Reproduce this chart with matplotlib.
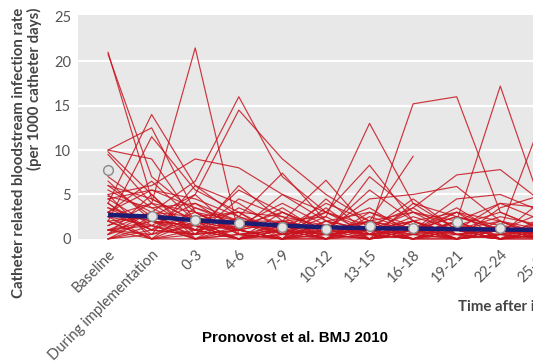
import numpy as np
import matplotlib
matplotlib.use("Agg")
import matplotlib.pyplot as plt

nan = np.nan

categories = ["Baseline", "During implementation", "0-3", "4-6", "7-9", "10-12",
              "13-15", "16-18", "19-21", "22-24", "25-27"]

# one list per hospital, rates per 1000 catheter days
hospitals = [
    [21.0, 4.5, 2.0, 1.0, 0.0, 1.5, 0.5, 0.0, 1.0, 0.5, 0.0],
    [20.8, 7.0, 3.0, 0.5, 1.5, 0.0, 2.0, 1.0, 0.0, 1.0, 0.5],
    [4.0, 14.0, 6.0, 2.5, 1.0, 0.5, 1.0, 2.0, 0.5, 0.0, 1.0],
    [10.0, 12.5, 3.0, 1.0, 2.0, 0.5, 0.0, 1.0, 2.5, 1.0, 0.0],
    [2.0, 11.5, 5.5, 3.0, 0.5, 1.0, 2.0, 0.0, 1.0, 0.0, 1.5],
    [2.5, 4.0, 21.5, 0.5, 1.0, 0.0, 0.5, 1.5, 0.0, 2.0, 0.5],
    [1.0, 3.0, 6.5, 16.0, 7.0, 3.0, 1.0, 0.5, 2.0, 0.0, 1.0],
    [3.0, 1.0, 5.0, 14.5, 9.0, 5.0, 2.0, 3.0, 0.5, 1.0, 0.0],
    [10.0, 9.0, 2.0, 1.0, 0.0, 0.5, 1.0, 0.0, 0.0, 0.5, 2.0],
    [9.5, 4.0, 1.0, 2.0, 0.5, 2.5, 0.0, 1.0, 0.5, 0.0, 0.0],
    [5.0, 6.0, 9.0, 8.0, 5.0, 2.0, 3.0, 1.0, 0.0, 1.5, 1.0],
    [3.5, 2.0, 1.5, 1.0, 2.0, 2.5, 13.0, 4.0, 1.0, 0.0, 0.5],
    [1.5, 3.0, 2.5, 1.0, 0.0, 1.0, 2.0, 9.3, nan, nan, nan],
    [4.5, 5.5, 3.5, 2.0, 1.5, 3.0, 8.3, 2.0, 3.0, 1.0, 0.5],
    [0.5, 2.0, 1.0, 0.0, 3.0, 1.0, 1.0, 15.2, 16.0, 3.0, 1.0],
    [2.0, 0.0, 3.5, 1.5, 1.0, 0.0, 1.5, 0.5, 2.0, 17.2, 3.0],
    [6.0, 4.5, 2.0, 3.0, 2.5, 1.5, 0.5, 3.5, 7.2, 7.8, 4.0],
    [0.0, 1.5, 0.5, 1.0, 0.0, 2.0, 1.0, 0.0, 1.5, 1.0, 14.0],
    [4.8, 3.5, 4.0, 2.0, 2.0, 6.6, 1.0, 2.0, 0.5, 1.5, 0.0],
    [3.0, 5.5, 4.5, 2.5, 7.4, 2.0, 0.0, 1.5, 1.0, 0.0, 1.0],
    [1.0, 0.5, 6.0, 4.0, 1.0, 0.5, 7.0, 3.0, 2.0, 4.0, 2.0],
    [0.0, 2.5, 1.0, 5.5, 3.0, 1.0, 4.5, 5.0, 5.9, 2.0, 1.0],
    [2.0, 0.0, 2.0, 0.0, 1.0, 4.0, 2.0, 1.0, 4.5, 5.0, 3.0],
    [5.5, 3.0, 0.0, 1.5, 4.0, 1.5, 3.5, 0.5, 0.0, 3.5, 5.0],
    [1.5, 4.0, 3.0, 0.5, 0.0, 3.5, 0.0, 4.0, 2.5, 1.0, 3.0],
    [3.5, 1.0, 0.5, 3.5, 1.5, 0.0, 2.5, 1.0, 3.5, 0.5, 0.0],
    [6.5, 2.0, 1.5, 0.0, 2.0, 1.0, 0.5, 2.5, 1.0, 2.5, 1.5],
    [0.5, 5.0, 0.0, 2.5, 0.5, 3.0, 1.5, 0.0, 2.0, 0.0, 2.5],
    [2.5, 1.5, 4.0, 1.0, 3.5, 0.5, 0.0, 2.0, 0.0, 1.0, 0.0],
    [4.0, 0.5, 2.5, 3.0, 0.0, 2.0, 1.0, 3.0, 1.5, 3.0, 1.0],
    [1.0, 2.0, 0.5, 4.5, 2.5, 0.0, 3.0, 1.5, 0.0, 0.5, 4.5],
    [3.0, 6.5, 2.0, 0.0, 1.0, 1.5, 0.0, 0.5, 3.0, 2.0, 0.0],
    [0.0, 1.0, 3.0, 2.0, 0.5, 0.0, 1.5, 3.5, 0.5, 0.0, 2.0],
    [7.0, 3.5, 1.0, 1.5, 3.0, 0.5, 2.0, 0.0, 1.0, 4.0, 3.5],
    [2.0, 2.5, 5.0, 0.5, 0.0, 4.5, 0.5, 1.0, 2.5, 1.5, 0.0],
    [1.0, 0.0, 0.5, 6.0, 2.0, 1.0, 5.5, 2.0, 0.0, 0.5, 1.5],
    [4.5, 1.5, 0.0, 1.0, 5.0, 3.0, 0.5, 1.0, 3.0, 0.0, 0.5],
    [0.5, 3.0, 1.5, 0.0, 1.5, 0.5, 1.0, 4.5, 1.0, 2.0, 0.0],
    [9.8, 5.0, 0.5, 1.0, 0.0, 0.0, 0.5, 0.0, 1.0, 0.0, 0.5],
    [5.0, 0.0, 1.0, 0.0, 0.5, 1.0, 0.0, 0.5, 0.0, 1.0, 0.0],
    [3.0, 2.0, 0.0, 0.5, 0.0, 0.0, 1.0, 0.0, 0.5, 0.0, 1.0],
    [0.0, 0.5, 1.5, 0.0, 1.0, 0.5, 0.0, 1.0, 0.0, 0.5, 0.0],
    [4.0, 1.0, 0.5, 2.0, 0.0, 1.0, 0.5, 0.0, 2.0, 0.0, 0.5],
    [2.5, 0.0, 0.0, 0.5, 1.0, 0.0, 0.0, 2.0, 0.5, 1.0, 0.0],
    [1.0, 1.5, 0.0, 0.0, 0.5, 1.5, 0.5, 0.0, 0.0, 0.5, 1.0],
    [6.0, 2.5, 1.0, 0.0, 0.0, 0.5, 0.0, 0.5, 1.0, 0.0, 0.0],
]

trend = [2.7, 2.5, 2.1, 1.8, 1.5, 1.3, 1.2, 1.15, 1.1, 1.05, 1.0]
overall = [7.7, 2.6, 2.1, 1.8, 1.35, 1.1, 1.5, 1.25, 1.9, 1.25, 1.2]

yticks = [0, 5, 10, 15, 20, 25]

fig = plt.figure(figsize=(5.33, 3.62), dpi=100)
# axes run past the right edge: the picture is a crop of a wider chart
ax = fig.add_axes([78 / 533, 1 - 246 / 362, 492 / 533, 231 / 362])
ax.set_facecolor("white")
ax.axhspan(0, 25.2, color="#e8e8e8", zorder=0, lw=0)
for y in yticks[1:-1]:
    ax.axhline(y, color="white", lw=1.6, zorder=1)

x = np.arange(len(categories))
for h in hospitals:
    ax.plot(x, h, color="#c8141f", lw=0.85, alpha=0.85, zorder=2)
ax.plot(x, trend, color="#1c1c72", lw=3.2, solid_capstyle="butt", zorder=3)
ax.plot(x, overall, "o", ms=7, mfc="#e4e4e4", mec="#8a8a8a", mew=1.0, zorder=4)

ax.set_xlim(-0.69, 10.6)
ax.set_ylim(-0.8, 25.2)
ax.set_yticks(yticks)
ax.set_xticks(x)
ax.set_xticklabels(categories, rotation=45, ha="right", rotation_mode="anchor",
                   fontfamily="Lato", fontsize=10.5, color="#555555")
for lab in ax.get_yticklabels():
    lab.set_fontfamily("Lato")
    lab.set_fontsize(10.5)
    lab.set_color("#555555")
ax.tick_params(axis="y", length=0, pad=5)
ax.tick_params(axis="x", length=0, pad=1)
for s in ax.spines.values():
    s.set_visible(False)

fig.text(27 / 533, 1 - 8 / 362,
         "Catheter related bloodstream infection rate\n(per 1000 catheter days)",
         rotation=90, ha="center", va="top", multialignment="right",
         fontfamily="Lato", fontweight="bold", fontsize=10.8, color="#444444",
         linespacing=1.0)
fig.text(458 / 533, 1 - 306 / 362, "Time after implementation (months)",
         ha="left", va="center", fontfamily="Lato", fontweight="bold",
         fontsize=10.8, color="#444444")
fig.text(295 / 533, 1 - 338 / 362, "Pronovost et al. BMJ 2010", ha="center",
         va="center", fontfamily="Liberation Sans", fontweight="bold",
         fontsize=10.8, color="black")

fig.savefig("out.png", dpi=100)
